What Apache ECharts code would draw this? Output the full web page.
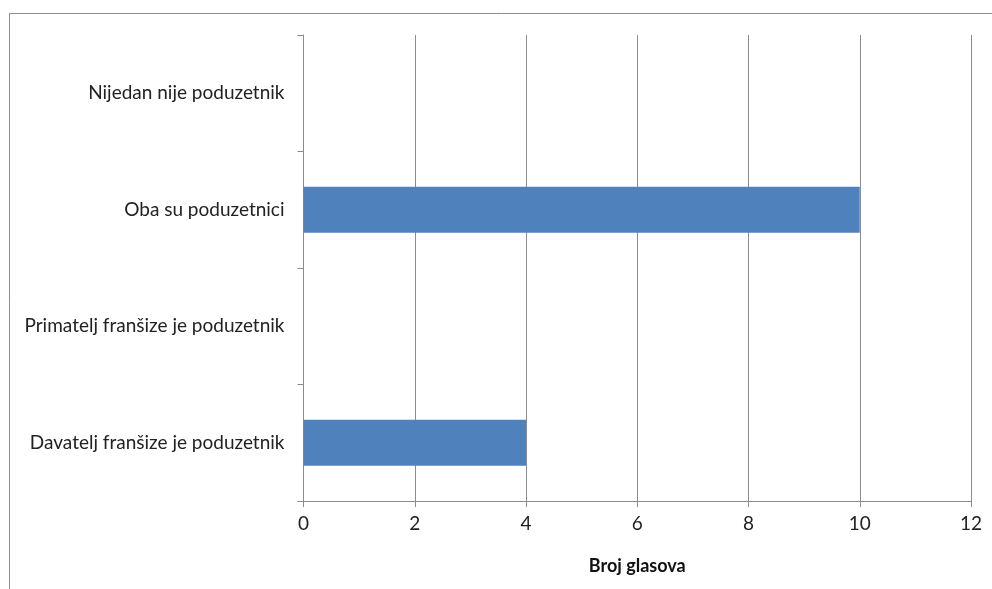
<!DOCTYPE html>
<html><head><meta charset="utf-8">
<script src="https://cdn.jsdelivr.net/npm/echarts@6/dist/echarts.min.js"></script>
<style>html,body{margin:0;padding:0;background:#fff}#c{width:992px;height:589px}</style>
</head><body><div id="c"></div>
<script>
const categories = ['Davatelj franšize je poduzetnik', 'Primatelj franšize je poduzetnik', 'Oba su poduzetnici', 'Nijedan nije poduzetnik'];
const votes = [4, 0, 10, 0];
const axisTitle = 'Broj glasova';
const xTicks = [0, 2, 4, 6, 8, 10, 12];

const font = 'Lato';
const chart = echarts.init(document.getElementById('c'), null, {renderer: 'canvas'});
chart.setOption({
  animation: false,
  backgroundColor: '#fff',
  graphic: [{type: 'rect', shape: {x: 9.5, y: 13.5, width: 1100, height: 700}, style: {fill: 'none', stroke: '#8c8c8c', lineWidth: 1}, silent: true, z: 100}],
  grid: {left: 303.5, right: 21, top: 35, bottom: 88, containLabel: false},
  xAxis: {
    type: 'value', min: xTicks[0], max: xTicks[xTicks.length - 1], interval: 2,
    name: axisTitle, nameLocation: 'middle', nameGap: 56,
    nameTextStyle: {fontFamily: font, fontWeight: 'bold', fontSize: 18, color: '#111'},
    axisLine: {show: true, lineStyle: {color: '#8c8c8c'}},
    axisTick: {show: true, length: 6, lineStyle: {color: '#8c8c8c'}},
    axisLabel: {fontFamily: font, fontSize: 19, color: '#222', margin: 13},
    splitLine: {show: true, lineStyle: {color: '#8c8c8c'}}
  },
  yAxis: {
    type: 'category', data: categories,
    axisLine: {show: true, lineStyle: {color: '#8c8c8c'}},
    axisTick: {show: true, length: 6, lineStyle: {color: '#8c8c8c'}},
    axisLabel: {fontFamily: font, fontSize: 19, color: '#222', margin: 19},
    splitLine: {show: false}
  },
  series: [{type: 'bar', data: votes, barWidth: '39.5%', itemStyle: {color: '#4F81BD'}}]
});
</script></body></html>
